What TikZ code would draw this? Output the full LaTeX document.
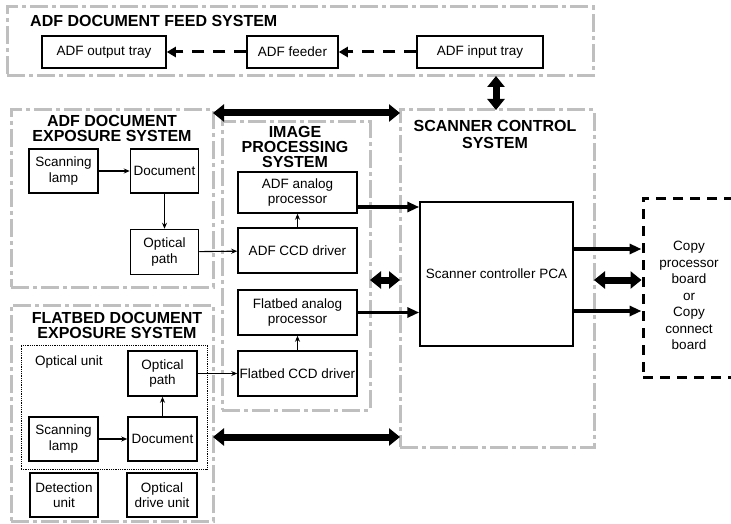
\documentclass[tikz,border=0pt]{standalone}
\usepackage{fontspec}
\setmainfont{Liberation Sans}
\usetikzlibrary{arrows.meta, positioning}

\begin{document}
\begin{tikzpicture}[x=1pt, y=-1pt,
    node distance=35pt,
    sys/.style={rectangle, draw=black!25, line width=3pt, anchor=north west,
                dash pattern=on 18pt off 4pt on 4pt off 4pt,
                inner sep=0pt, outer sep=0pt},
    ttl/.style={font=\fontsize{16}{15}\selectfont\bfseries, align=center,
                inner sep=0pt},
    box/.style={rectangle, draw=black, line width=1.5pt, minimum width=69pt,
                minimum height=44pt, inner sep=1pt, align=center,
                font=\fontsize{13.5}{15.5}\selectfont},
    wbox/.style={box, minimum width=119pt, minimum height=45pt},
    tbox/.style={box, minimum height=32pt},
    arr/.style={-{Stealth[length=6pt, width=5pt]}, line width=1.1pt},
    thk/.style={-{Triangle[length=12pt, width=10pt]}, line width=3.5pt},
    dsh/.style={-{Triangle[length=9pt, width=10pt]}, line width=3pt,
                dash pattern=on 12pt off 9pt},
    dbl/.style={{Triangle[length=11pt, width=17pt]}-{Triangle[length=11pt, width=17pt]},
                line width=7pt},
  ]
  \useasboundingbox (0,0) rectangle (731,524);
  % system frames
  \node[sys, minimum width=586pt, minimum height=69pt] (feed) at (7,7) {};
  \node[sys, minimum width=202pt, minimum height=177pt] (adf) at (11,110) {};
  \node[sys, minimum width=148pt, minimum height=288pt] (img) at (222,122) {};
  \node[sys, minimum width=194pt, minimum height=337pt] (scn) at (400,110) {};
  \node[sys, minimum width=202pt, minimum height=216pt] (flat) at (11,305) {};
  \node[ttl, anchor=west] (feedt) at (30,21) {ADF DOCUMENT FEED SYSTEM};
  \node[ttl] (adft) at (112,128.5) {ADF DOCUMENT\\EXPOSURE SYSTEM};
  \node[ttl] (imgt) at (295,146.5) {IMAGE\\PROCESSING\\SYSTEM};
  \node[ttl, font=\fontsize{16}{17}\selectfont\bfseries] (scnt) at (495,134) {SCANNER CONTROL\\SYSTEM};
  \node[ttl] (flatt) at (117,325) {FLATBED DOCUMENT\\EXPOSURE SYSTEM};
  % feed
  \node[tbox, minimum width=124pt] (out) at (104,52) {ADF output tray};
  \node[tbox, minimum width=91pt] (fdr) at (292.5,52) {ADF feeder};
  \node[tbox, minimum width=126pt] (inp) at (480,52) {ADF input tray};
  % adf exposure
  \node[box] (lampA) at (63.5,171) {Scanning\\lamp};
  \node[box, right=31pt of lampA, minimum width=68pt] (docA) {Document};
  \node[box, below=of docA, minimum width=68pt, minimum height=45pt] (optA) {Optical\\path};
  % image processing
  \node[wbox, minimum height=41pt] (aap) at (297.5,192.5) {ADF analog\\processor};
  \node[wbox] (accd) at (297.5,250.5) {ADF CCD driver};
  \node[wbox] (fap) at (297.5,312.5) {Flatbed analog\\processor};
  \node[wbox] (fccd) at (297.5,373.5) {Flatbed CCD driver};
  \node[box, minimum width=153pt, minimum height=144pt] (pca) at (496.5,274) {Scanner controller PCA};
  % flatbed exposure
  \node[rectangle, draw, densely dotted, line width=0.8pt, minimum width=186pt,
        minimum height=124pt, anchor=north west, outer sep=0pt] (ou) at (21,345) {};
  \node[anchor=west, inner sep=0pt, font=\fontsize{13.5}{15.5}\selectfont] (oul) at (35,362) {Optical unit};
  \node[box, minimum height=45pt] (optF) at (162.5,373.5) {Optical\\path};
  \node[box] (lampF) at (63.5,439) {Scanning\\lamp};
  \node[box] (docF) at (162.5,439) {Document};
  \node[box, minimum width=68pt] (det) at (64,495) {Detection\\unit};
  \node[box, line width=2.8pt, minimum width=70pt] (drv) at (162,495) {Optical\\drive unit};
  % copy board
  \node[rectangle, draw, line width=3pt, dash pattern=on 10pt off 7pt,
        minimum width=92pt, minimum height=179pt] (copy) at (689,287.5) {};
  \node[align=center, font=\fontsize{13.5}{16.5}\selectfont] (copyt) at (689,295.5)
       {Copy\\processor\\board\\or\\Copy\\connect\\board};
  % connectors
  \draw[dsh] (inp) -- (fdr);
  \draw[dsh] (fdr) -- (out);
  \draw[arr] (lampA) -- (docA);
  \draw[arr] (docA) -- (optA);
  \draw[arr] (optA) -- (accd);
  \draw[arr] (accd) -- (aap);
  \draw[arr] (lampF) -- (docF);
  \draw[arr] (docF) -- (optF);
  \draw[arr] (optF) -- (fccd);
  \draw[arr] (fccd) -- (fap);
  \coordinate (a1) at ([yshift=-14.5pt]aap.east);
  \draw[thk] (a1) -- (a1 -| pca.west);
  \draw[thk] (fap.east) -- (fap.east -| pca.west);
  \coordinate (c1) at ([yshift=25pt]pca.east);
  \coordinate (c2) at ([yshift=-37pt]pca.east);
  \draw[thk] (c1) -- (c1 -| copy.west);
  \draw[thk] (c2) -- (c2 -| copy.west);
  \coordinate (v1) at (feed.south -| 496,0);
  \draw[dbl] (v1) -- (v1 |- scn.north);
  \coordinate (h1) at ([yshift=-3pt]adf.north east);
  \draw[dbl] (h1) -- (h1 -| scn.west);
  \coordinate (h2) at (213,437);
  \draw[dbl] (h2) -- (h2 -| scn.west);
  \coordinate (m1) at (370,280);
  \draw[dbl] (m1) -- (m1 -| scn.west);
  \coordinate (m2) at (m1 -| scn.east);
  \draw[dbl] (m2) -- (m2 -| copy.west);
\end{tikzpicture}
\end{document}
